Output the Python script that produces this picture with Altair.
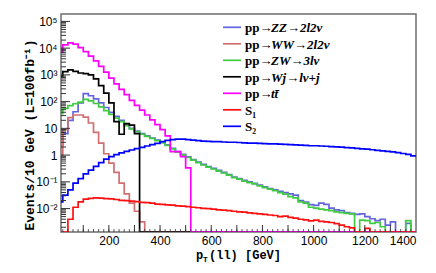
import math
import altair as alt
import pandas as pd

# bin lower edges (20 GeV bins), values are log10(Events/10 GeV); None = empty bin
edges = list(range(0, 1400, 20))

zz = [0.35, 0.8, 1.3, 1.62, 1.95, 2.3, 2.22, 2.1, 1.95, 1.78,
      1.6, 1.45, 1.3, 1.14, 1.0, 0.9, 0.8, 0.72, 0.64, 0.56,
      0.48, 0.38, 0.25, 0.13, 0.03, -0.07, -0.17, -0.26, -0.35, -0.43,
      -0.5, -0.57, -0.65, -0.73, -0.82, -0.88, -0.94, -1.0, -1.06, -1.12,
      -1.19, -1.25, -1.3, -1.36, -1.4, -1.45, -1.5, -1.7, -1.76, -1.85,
      -1.88, -1.8, -1.84, -1.98, -2.05, -2.08, -2.15, -2.18, -2.22, -2.2,
      -2.3, -2.38, -2.45, -2.4, -2.62, -2.5, None, None, -2.55, None]

ww = [0.0, 0.95, 1.4, 1.5, 1.5, 1.42, 1.2, 0.85, 0.45, 0.05,
      -0.3, -0.65, -1.05, -1.45, -1.8, -2.1, -2.5]

zw = [1.55, 1.75, 1.85, 1.92, 1.98, 2.08, 2.03, 1.93, 1.8, 1.66,
      1.52, 1.38, 1.25, 1.1, 0.98, 0.88, 0.78, 0.7, 0.62, 0.54,
      0.46, 0.36, 0.23, 0.11, 0.01, -0.09, -0.19, -0.28, -0.37, -0.45,
      -0.52, -0.6, -0.67, -0.75, -0.84, -0.9, -0.97, -1.03, -1.08, -1.15,
      -1.22, -1.27, -1.33, -1.4, -1.46, -1.55, -1.6, -1.75, -1.8, -1.95,
      -1.98, -2.02, -2.05, -2.08, -2.12, -2.15, -2.18, -2.2, None, -2.43,
      -2.45, -2.55, -2.52, -2.68, None, None, None, None, -2.45, None]

wj = [2.95, 3.12, 3.19, 3.13, 3.07, 3.05, 3.0, 2.85, 2.6, 2.32,
      1.95, 1.25, 0.78, 1.18, 1.12, 0.8]

tt = [3.85, 4.12, 4.2, 4.15, 4.02, 3.87, 3.7, 3.52, 3.32, 3.1,
      2.88, 2.66, 2.46, 2.26, 2.05, 1.86, 1.68, 1.5, 1.32, 1.14,
      0.95, 0.72, 0.13, 0.13, -0.06, -0.48]

s1 = [None, None, -2.4, -1.95, -1.75, -1.65, -1.62, -1.6, -1.61, -1.63,
      -1.64, -1.66, -1.69, -1.7, -1.72, -1.74, -1.77, -1.78, -1.8, -1.83,
      -1.84, -1.86, -1.87, -1.9, -1.91, -1.93, -1.95, -1.97, -1.99, -2.0,
      -2.02, -2.05, -2.06, -2.08, -2.1, -2.12, -2.13, -2.16, -2.18, -2.2,
      -2.22, -2.24, -2.26, -2.3, -2.28, -2.33, -2.36, -2.4, -2.42, -2.46,
      -2.43, -2.48, -2.5, -2.52, -2.56, -2.62, -2.68, -2.72, None, None,
      -2.74]

s2 = [-1.75, -1.5, -1.3, -1.05, -0.88, -0.7, -0.56, -0.42, -0.28, -0.15,
      -0.06, 0.02, 0.08, 0.14, 0.19, 0.24, 0.29, 0.34, 0.39, 0.44,
      0.5, 0.55, 0.58, 0.6, 0.6, 0.58, 0.56, 0.54, 0.52, 0.51,
      0.5, 0.5, 0.49, 0.48, 0.48, 0.47, 0.46, 0.45, 0.45, 0.44,
      0.43, 0.42, 0.42, 0.41, 0.4, 0.39, 0.38, 0.37, 0.36, 0.35,
      0.35, 0.34, 0.33, 0.32, 0.31, 0.3, 0.28, 0.27, 0.25, 0.23,
      0.22, 0.2, 0.18, 0.16, 0.14, 0.12, 0.09, 0.06, 0.03, -0.03]

names = ["ZZ", "WW", "ZW", "Wj", "tt", "S1", "S2"]
colors = ["#6464e0", "#d07070", "#40cc40", "#000000", "#ff00ff", "#ff1010", "#0000ff"]
series = [zz, ww, zw, wj, tt, s1, s2]
legend_main = ["pp\u2192", "pp\u2192", "pp\u2192", "pp\u2192", "pp\u2192", "S\u2081", "S\u2082"]
legend_ital = ["ZZ\u21922l2\u03bd", "WW\u21922l2\u03bd", "ZW\u21923l\u03bd", "Wj\u2192l\u03bd+j",
               "tt\u0304", "", ""]

y_ticks = [1e-2, 1e-1, 1, 10, 100, 1e3, 1e4, 1e5]
y_labels = ["10\u207b\u00b2", "10\u207b\u00b9", "1", "10", "10\u00b2", "10\u00b3", "10\u2074", "10\u2075"]
x_ticks = [200, 400, 600, 800, 1000, 1200, 1400]

rows = []
for name, vals in zip(names, series):
    full = list(vals) + [None] * (len(edges) - len(vals))
    for e, v in zip(edges, full):
        rows.append({"s": name, "x": e, "y": 1e-9 if v is None else 10 ** v})
    last = full[-1]
    rows.append({"s": name, "x": 1400, "y": 1e-9 if last is None else 10 ** last})
df = pd.DataFrame(rows)

W, H = 355, 218
yexpr = "round(log(datum.value)/LN10)"
lab = "''"
for t, l in zip(y_ticks, y_labels):
    k = int(round(math.log10(t)))
    lab = f"({yexpr}=={k}?'{l}':{lab})"

xscale = alt.Scale(domain=[13, 1400], nice=False, zero=False)
yscale = alt.Scale(type="log", domain=[1.33e-3, 1.89e5], nice=False, clamp=True)
X = alt.X("x:Q", scale=xscale,
          axis=alt.Axis(values=x_ticks, ticks=False, domain=False, grid=False, title=None,
                        format="d",
                        labelFont="Liberation Sans", labelFontSize=12, labelColor="black",
                        labelPadding=3, labelOverlap=False))
Y = alt.Y("y:Q", scale=yscale,
          axis=alt.Axis(values=y_ticks, ticks=False, domain=False, grid=False, title=None,
                        labelFont="Liberation Sans", labelFontSize=12, labelColor="black",
                        labelPadding=4, labelExpr=lab, labelOverlap=False))

layers = []
for name, col in zip(names, colors):
    layers.append(
        alt.Chart(df).transform_filter(alt.datum.s == name)
        .mark_line(interpolate="step-after", clip=True, strokeWidth=1.7, color=col)
        .encode(x=X, y=Y)
    )

# inward ticks
ymaj = pd.DataFrame({"y": y_ticks})
ymin = pd.DataFrame({"y": [m * 10.0 ** k for k in range(-3, 6) for m in range(2, 10)
                           if 1.33e-3 <= m * 10.0 ** k <= 1.89e5]})
xmaj = pd.DataFrame({"x": list(range(100, 1400, 100))})
xmin = pd.DataFrame({"x": list(range(20, 1400, 20))})
tick_col = "#333333"
layers.append(alt.Chart(ymaj).mark_rule(color=tick_col, strokeWidth=1)
              .encode(y=Y, x=alt.value(0), x2=alt.value(9)))
layers.append(alt.Chart(ymin).mark_rule(color=tick_col, strokeWidth=1)
              .encode(y=Y, x=alt.value(0), x2=alt.value(5)))
layers.append(alt.Chart(xmaj).mark_rule(color=tick_col, strokeWidth=1)
              .encode(x=X, y=alt.value(H), y2=alt.value(H - 7)))
layers.append(alt.Chart(xmin).mark_rule(color=tick_col, strokeWidth=0.8)
              .encode(x=X, y=alt.value(H), y2=alt.value(H - 3)))

# legend
one = pd.DataFrame({"a": [0]})
ly0, dly = 13.3, 16.5
for i, (col, m, it) in enumerate(zip(colors, legend_main, legend_ital)):
    yy = ly0 + i * dly
    layers.append(alt.Chart(one).mark_rule(color=col, strokeWidth=1.7)
                  .encode(x=alt.value(162), x2=alt.value(180), y=alt.value(yy)))
    layers.append(alt.Chart(one).mark_text(align="left", baseline="middle", font="Liberation Serif",
                                           fontSize=13, fontWeight="bold", color="black")
                  .encode(x=alt.value(184), y=alt.value(yy + 1), text=alt.value(m)))
    if it:
        layers.append(alt.Chart(one).mark_text(align="left", baseline="middle", font="Liberation Serif",
                                               fontSize=13, fontWeight="bold", fontStyle="italic",
                                               color="black")
                      .encode(x=alt.value(210), y=alt.value(yy + 1), text=alt.value(it)))

# axis titles
def txt(t, x, y, size, align="left"):
    return (alt.Chart(one).mark_text(align=align, baseline="alphabetic", font="Liberation Mono",
                                     fontSize=size, fontWeight="bold", color="black")
            .encode(x=alt.value(x), y=alt.value(y), text=alt.value(t)))

layers.append(txt("p", 135, 245, 12))
layers.append(txt("T", 142, 248, 8))
layers.append(txt("(ll) [GeV]", 148, 245, 12))
layers.append(alt.Chart(one).mark_text(align="center", baseline="middle", font="Liberation Mono",
                                       fontSize=13, fontWeight="bold", color="black", angle=270)
              .encode(x=alt.value(-31), y=alt.value(121),
                      text=alt.value("Events/10 GeV  (L=100fb\u207b\u00b9)")))

chart = alt.layer(*layers).properties(
    width=W, height=H,
    autosize=alt.AutoSizeParams(type="none"),
    padding={"left": 53, "top": 6, "right": 12, "bottom": 33},
    background="white",
).configure_view(stroke="#6e6e6e", strokeWidth=1.5)

chart.save("out.html", embed_options={"renderer": "svg", "actions": False})
